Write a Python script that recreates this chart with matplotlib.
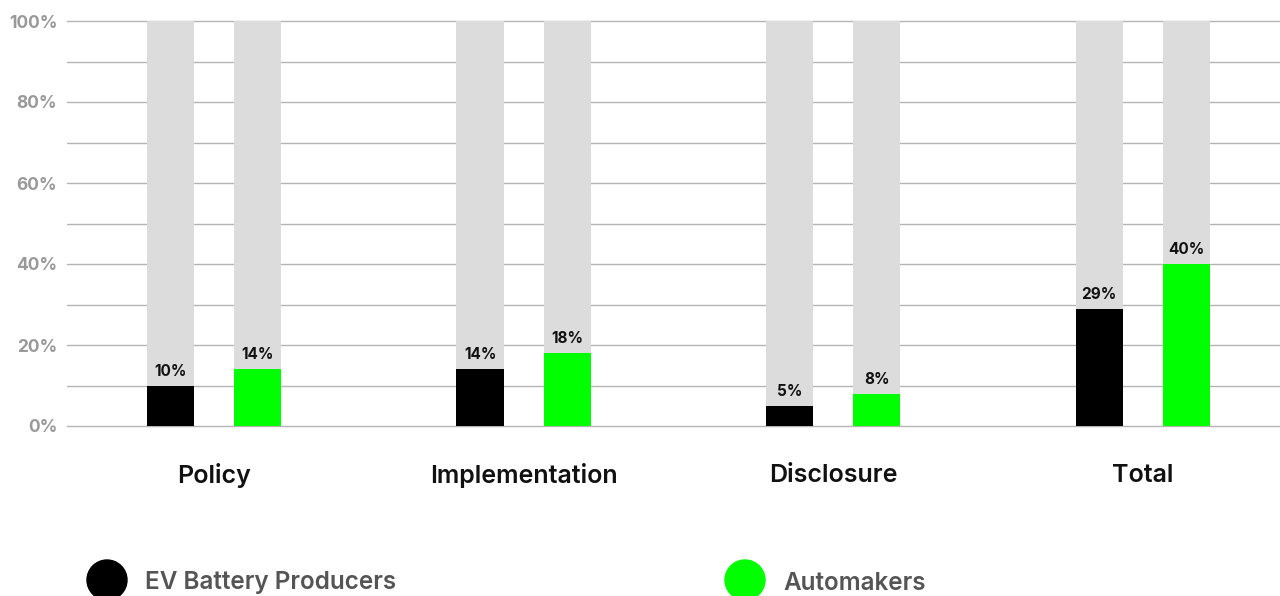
import numpy as np
import matplotlib.pyplot as plt
from matplotlib.patches import Circle

categories = ['Policy', 'Implementation', 'Disclosure', 'Total']
ev_battery = [10, 14, 5, 29]
automakers = [14, 18, 8, 40]
series_names = ['EV Battery Producers', 'Automakers']
colors = ['#000000', '#00ff00']

plt.rcParams['font.family'] = ['Inter', 'DejaVu Sans']

fig = plt.figure(figsize=(12.8, 5.96), dpi=100)
ax = fig.add_axes([67 / 1280, 1 - 426 / 596, 1 - 67 / 1280, (426 - 21) / 596])

x = np.arange(len(categories))
w = 0.152
off = 0.1406

# grey 100% backdrop bars, then the values on top
for i, (vals, c) in enumerate(zip([ev_battery, automakers], colors)):
    pos = x + (off if i else -off)
    ax.bar(pos, [100] * len(vals), width=w, color='#dcdcdc', zorder=2)
    bars = ax.bar(pos, vals, width=w, color=c, zorder=3)
    ax.bar_label(bars, labels=[f'{v}%' for v in vals], padding=5,
                 fontsize=11, fontweight='bold', color='#111111')

ax.set_xlim(-0.475, 3.444)
ax.set_ylim(0, 100)
ax.set_yticks(range(0, 101, 20))
ax.set_yticks(range(10, 100, 20), minor=True)
ax.set_yticklabels([f'{t}%' for t in range(0, 101, 20)],
                   fontsize=12.5, fontweight='bold', color='#999999')
ax.tick_params(axis='y', which='both', length=0, pad=7)
ax.grid(axis='y', which='both', color='#b4b4b4', linewidth=1)
for gl in ax.get_ygridlines():
    gl.set_clip_on(False)
ax.set_axisbelow(True)

ax.set_xticks(x)
ax.set_xticklabels(categories, fontsize=18, fontweight='semibold', color='#111111')
ax.tick_params(axis='x', length=0, pad=27)

for s in ax.spines.values():
    s.set_visible(False)

# legend drawn by hand at the bottom
for cx, name, c in [(1.07, series_names[0], colors[0]), (7.45, series_names[1], colors[1])]:
    fig.add_artist(Circle((cx, 0.16), 0.2, transform=fig.dpi_scale_trans,
                          color=c, clip_on=False))
    fig.text(cx + 0.38, 0.13, name, transform=fig.dpi_scale_trans,
             fontsize=17.5, fontweight='semibold', color='#555555', va='center')

fig.savefig('out.png', dpi=100)
